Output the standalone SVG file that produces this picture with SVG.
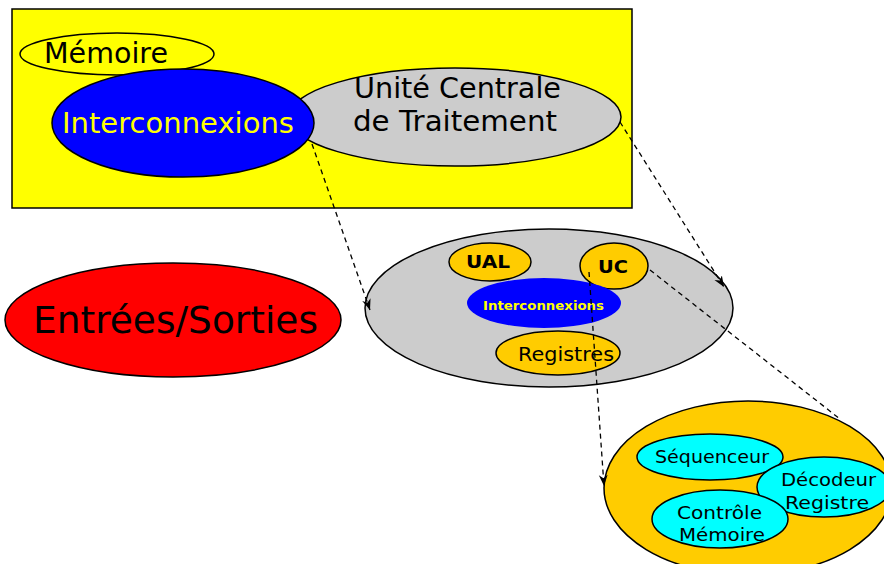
<svg xmlns="http://www.w3.org/2000/svg" width="884" height="564" viewBox="0 0 884 564">
<style>
.o{stroke:#000;stroke-width:1.5}
.t{font-family:"DejaVu Sans","Liberation Sans",sans-serif;fill:#000}
.b{font-weight:bold}
.c{fill:none;stroke:#000;stroke-width:1.3;stroke-dasharray:5,4}
</style>
<defs>
<marker id="ah" viewBox="0 0 10 10" refX="10" refY="5" markerWidth="11" markerHeight="11" orient="auto" markerUnits="userSpaceOnUse">
<path d="M0,1 L10,5 L0,9 L3,5 Z" fill="#000"/>
</marker>
</defs>
<rect width="884" height="564" fill="#fff"/>
<g id="systeme">
<rect x="12" y="9" width="620" height="199" fill="#ffff00" class="o"/>
</g>
<g id="memoire">
<ellipse cx="117" cy="54" rx="97" ry="21" fill="#ffff00" class="o"/>
<text class="t" x="44" y="63" font-size="28" textLength="124" lengthAdjust="spacingAndGlyphs">Mémoire</text>
</g>
<g id="uct">
<ellipse cx="455" cy="117" rx="166" ry="49" fill="#cccccc" class="o"/>
<text class="t" x="354" y="98" font-size="28" textLength="207" lengthAdjust="spacingAndGlyphs">Unité Centrale</text>
<text class="t" x="353" y="131" font-size="28" textLength="204" lengthAdjust="spacingAndGlyphs">de Traitement</text>
</g>
<g id="interconnexions">
<ellipse cx="183" cy="123" rx="131" ry="54" fill="#0000ff" class="o"/>
<text class="t" x="62" y="133" font-size="28" style="fill:#ffff00" textLength="232" lengthAdjust="spacingAndGlyphs">Interconnexions</text>
</g>
<g id="entrees-sorties">
<ellipse cx="173" cy="320" rx="168" ry="57" fill="#ff0000" class="o"/>
<text class="t" x="33" y="333" font-size="38" textLength="285" lengthAdjust="spacingAndGlyphs">Entrées/Sorties</text>
</g>
<g id="cpu-detail">
<ellipse cx="549" cy="308" rx="184" ry="79" fill="#cccccc" class="o"/>
</g>
<g id="ual">
<ellipse cx="490" cy="262" rx="41" ry="19" fill="#ffcc00" class="o"/>
<text class="t b" x="466" y="268" font-size="18" textLength="44" lengthAdjust="spacingAndGlyphs">UAL</text>
</g>
<g id="uc">
<ellipse cx="614" cy="266" rx="34" ry="23" fill="#ffcc00" class="o"/>
<text class="t b" x="598" y="273" font-size="18" textLength="30" lengthAdjust="spacingAndGlyphs">UC</text>
</g>
<g id="interconnexions-cpu">
<ellipse cx="544" cy="303" rx="77" ry="25" fill="#0000ff"/>
<text class="t b" x="483" y="310" font-size="13" style="fill:#ffff00" textLength="121" lengthAdjust="spacingAndGlyphs">Interconnexions</text>
</g>
<g id="registres">
<ellipse cx="558" cy="353" rx="62" ry="22" fill="#ffcc00" class="o"/>
<text class="t" x="518" y="361" font-size="19" textLength="96" lengthAdjust="spacingAndGlyphs">Registres</text>
</g>
<g id="uc-detail">
<ellipse cx="748" cy="488" rx="144" ry="87" fill="#ffcc00" class="o"/>
</g>
<g id="sequenceur">
<ellipse cx="710" cy="457" rx="73" ry="23" fill="#00ffff" class="o"/>
<text class="t" x="655" y="463" font-size="18" textLength="114" lengthAdjust="spacingAndGlyphs">Séquenceur</text>
</g>
<g id="decodeur">
<ellipse cx="824" cy="487" rx="67" ry="30" fill="#00ffff" class="o"/>
<text class="t" x="781" y="486" font-size="18" textLength="95" lengthAdjust="spacingAndGlyphs">Décodeur</text>
<text class="t" x="785" y="509" font-size="18" textLength="84" lengthAdjust="spacingAndGlyphs">Registre</text>
</g>
<g id="controle">
<ellipse cx="720" cy="519" rx="68" ry="29" fill="#00ffff" class="o"/>
<text class="t" x="677" y="519" font-size="18" textLength="85" lengthAdjust="spacingAndGlyphs">Contrôle</text>
<text class="t" x="679" y="541" font-size="18" textLength="86" lengthAdjust="spacingAndGlyphs">Mémoire</text>
</g>
<g id="connectors">
<line class="c" x1="312" y1="144" x2="370" y2="310" marker-end="url(#ah)"/>
<line class="c" x1="620" y1="122" x2="724" y2="287" marker-end="url(#ah)"/>
<line class="c" x1="650" y1="270" x2="840" y2="419"/>
<line class="c" x1="589" y1="272" x2="604" y2="486" marker-end="url(#ah)"/>
</g>
</svg>
